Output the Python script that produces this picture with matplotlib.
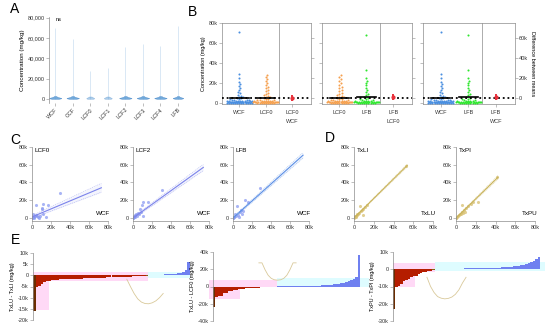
import numpy as np
import matplotlib
matplotlib.use("Agg")
import matplotlib.pyplot as plt

plt.rcParams['font.family'] = ['Liberation Sans', 'DejaVu Sans']

# ---------------- data ----------------
a_cats = ["WCF", "CCF", "LCF0", "LCF1", "LCF2", "LCF3", "LCF4", "LFB"]
a_max = [70000, 59000, 27000, 30000, 51000, 54000, 52000, 72000]
a_low = [[100, 300, 500, 600, 700, 800, 900, 1000, 1100, 1300, 1500, 1800, 2200, 2800],
         [100, 300, 500, 600, 700, 800, 900, 1000, 1100, 1300, 1500, 1800, 2200, 2800],
         [100, 300, 500, 700, 900, 1100, 1400, 1800, 2400],
         [100, 300, 500, 700, 900, 1100, 1400, 1800, 2400],
         [100, 300, 500, 600, 700, 800, 900, 1000, 1100, 1300, 1500, 1800, 2200, 2800],
         [100, 300, 500, 600, 700, 800, 900, 1000, 1100, 1300, 1500, 1800, 2200, 2800],
         [100, 300, 500, 600, 700, 800, 900, 1000, 1100, 1300, 1500, 1800, 2200, 2800],
         [100, 300, 500, 600, 700, 800, 900, 1000, 1100, 1300, 1500, 1800, 2200, 2800]]
a_blob_w = [0.7, 0.7, 0.45, 0.45, 0.7, 0.7, 0.7, 0.6]

b_wcf = [71000, 29000, 25000, 21000, 19000, 17000, 15000, 13000, 11000, 9500,
         8200, 7200, 6300, 5600, 5000, 4500, 4000, 3600, 3300, 3000,
         2800, 2600, 2400, 2200, 2100, 2000, 1900, 1800, 1700, 1600,
         1500, 1450, 1400, 1350, 1300, 1250, 1200, 1150, 1100, 1050,
         1000, 950, 900, 850, 800, 760, 720, 680, 640, 600,
         560, 520, 480, 440, 400, 360, 320, 280, 240, 200,
         170, 140, 110, 80, 50]
b_lcf0 = [28000, 26000, 24000, 22000, 20000, 18000, 16000, 14500, 13000, 11500,
          10000, 9000, 8000, 7000, 6200, 5500, 4800, 4200, 3700, 3300,
          2900, 2600, 2400, 2200, 2000, 1850, 1700, 1600, 1500, 1400,
          1300, 1200, 1100, 1000, 950, 900, 850, 800, 750, 700,
          650, 600, 550, 500, 450, 400, 350, 300, 250, 200,
          150, 100, 60]
b_lfb = [68000, 33000, 25000, 22000, 20000, 17500, 15000, 13000, 11000, 9000,
         7500, 6200, 5200, 4400, 3700, 3100, 2700, 2400, 2100, 1900,
         1700, 1500, 1400, 1300, 1200, 1100, 1000, 950, 900, 850,
         800, 750, 700, 650, 600, 550, 500, 450, 400, 350,
         300, 250, 200, 150, 100, 60]
b_pairs = [("WCF", "LCF0"), ("LCF0", "LFB"), ("WCF", "LFB")]
b_diff_ci = [(-3500, 2500), (-3000, 3000), (-3500, 2500)]

c_names = ["LCF0", "LCF2", "LFB"]
c_x = [[4500, 12000, 17000, 10000, 11000, 29000, 12000, 15000, 1000, 2000, 3000, 500, 4000, 6000, 8000, 1500, 2500, 7000, 5000, 800, 200],
       [9000, 11000, 16000, 30000, 11000, 7000, 5000, 3000, 2000, 1000, 500, 4000, 6000, 8000, 1500, 200, 2500],
       [4000, 12500, 16000, 28000, 7000, 10000, 9000, 3000, 1500, 500, 2000, 5000, 6000, 200, 1000, 8000]]
c_y = [[14700, 16000, 14700, 11000, 10000, 28000, 4000, 600, 1500, 800, 2500, 300, 3000, 1200, 2000, 4000, 200, 500, 2000, 900, 100],
       [15000, 18500, 18500, 32000, 2000, 10000, 6000, 4000, 1500, 800, 300, 2500, 5000, 7000, 2500, 100, 3000],
       [13000, 20000, 18500, 34000, 7000, 8000, 5000, 2000, 1500, 300, 4000, 3000, 1000, 200, 600, 9000]]
c_fit = [(0.45, 1200, 73000), (0.77, 0, 74000), (0.96, 0, 73700)]   # slope, intercept, x end
c_ci = [(1500, 5000), (1000, 3500), (1000, 3000)]                   # half width at 0 / at end

d_names = [("TxLI", "TxLU"), ("TxPI", "TxPU")]
d_x = [[53000, 13000, 11000, 9000, 6000, 9000, 7000, 5000, 4000, 3000, 2000, 1500, 1000, 500, 200, 2500, 3500, 8000],
       [42000, 5700, 17000, 22000, 15000, 12000, 10000, 8000, 6000, 5000, 4000, 3000, 2000, 1000, 500, 200, 7000, 9000]]
d_y = [[59000, 14500, 12000, 10000, 13000, 3000, 7500, 5500, 4200, 3500, 2200, 1700, 1100, 600, 200, 1500, 4500, 8500],
       [46000, 14700, 18500, 18500, 16000, 13000, 11000, 9000, 6500, 5000, 4400, 3200, 2200, 1100, 500, 200, 5500, 7000]]
d_fit = [(1.1, 0, 54000), (1.08, 0, 42500)]
d_ci = [(400, 1500), (400, 2000)]

e1 = [-16000, -5200, -4800, -4000, -3200, -2700, -2400, -2200, -2000, -1900,
      -1850, -1800, -1750, -1700, -1650, -1600, -1550, -1500, -1450, -1400,
      -1350, -1300, -1250, -1200, -1150, -1100, -1050, -1000, -950, -900,
      -850, -800, -760, -720, -680, -640, -600, -560, -520, -480,
      -440, -400, -360, -320,
      100, 150, 200, 250, 300, 350, 400, 450, 500, 600, 700, 900, 1200, 1600, 2500, 5800]
e2 = [-23500, -12000, -11500, -10500, -8000, -7000, -5500, -5000, -4500, -3800,
      -3400, -3000, -2600, -2300, -2000, -1800, -1600, -1400, -1200, -1100,
      -1000, -900, -800, -700, -600, -400,
      100, 150, 200, 250, 300, 350, 400, 450, 500, 550, 600, 650, 700, 750, 800,
      900, 1000, 1100, 1200, 1400, 1600, 1800, 2000, 2400, 2800, 3300, 3800, 4500,
      5200, 6000, 7000, 8500, 11000, 36000]
e3 = [-23000, -10000, -9500, -8300, -7000, -6200, -5800, -4300, -4000, -3800,
      -2600, -2400, -1600, -1400, -1200, -800, -600,
      100, 120, 150, 180, 200, 230, 260, 290, 320, 350, 380, 410, 440, 470, 500,
      540, 580, 620, 660, 700, 740, 780, 820, 860, 900, 950, 1000, 1100, 1200,
      1300, 1400, 1500, 1700, 1900, 2100, 2400, 2700, 3000, 3500, 4200, 5000, 6000, 7000]
e_labels = ["TxLU - TxLI (mg/kg)", "TxLU - LCF0 (mg/kg)", "TxPU - TxPI (mg/kg)"]
e_ticks = [[10000, 5000, 0, -5000, -10000, -15000, -20000],
           [40000, 20000, 0, -20000, -40000],
           [10000, 0, -10000, -20000, -30000]]
e_inset = [[1.0, 0.7, 0.42, 0.2, 0.07, 0.01, 0.0, 0.04, 0.12, 0.25, 0.42],
           [1.0, 1.0, 0.6, 0.28, 0.1, 0.02, 0.0, 0.02, 0.1, 0.28, 0.6, 1.0, 1.0],
           [0.95, 0.55, 0.28, 0.1, 0.03, 0.0, 0.02, 0.08, 0.2, 0.4, 0.7, 0.95]]

# ---------------- helpers ----------------
W, H = 550, 332
fig = plt.figure(figsize=(5.5, 3.32), dpi=100)
GR = '#8c8c8c'
FS = 4


def pax(x0, y0, x1, y1):
    return fig.add_axes([x0 / W, 1 - y1 / H, (x1 - x0) / W, (y1 - y0) / H])


def style(ax, sides=('left', 'bottom')):
    for s in ax.spines:
        ax.spines[s].set_visible(s in sides)
        ax.spines[s].set_color(GR)
        ax.spines[s].set_linewidth(0.5)
    ax.tick_params(labelsize=FS, length=2, width=0.4, color=GR, pad=1, labelcolor='#333333')


def kfmt(v):
    return "0" if v == 0 else "%dk" % (v / 1000)


def swarm(vals, xpx, ypx, d=1.9, cap=13):
    vals = np.asarray(vals, float)
    steps = [0.0]
    for k in range(1, int(cap / (d / 2)) + 1):
        steps += [k * d / 2, -k * d / 2]
    placed = []
    offs = np.zeros(len(vals))
    for i in np.argsort(vals):
        y = vals[i] * ypx
        best, bestgap = 0.0, -1
        for s in steps:
            gap = min([np.hypot(s - px, y - py) for px, py in placed if abs(y - py) < d] + [99])
            if gap >= d:
                best = s
                break
            if gap > bestgap:
                bestgap, best = gap, s
        placed.append((best, y))
        offs[i] = best / xpx
    return offs


def letter(x, y, t):
    fig.text(x / W, 1 - y / H, t, fontsize=10, ha='center', va='center')


# ---------------- A ----------------
letter(15, 9, "A")
ax = pax(49, 17, 185, 103)
style(ax)
vcol = '#5b9bd5'
pos = np.arange(len(a_cats))
ax.vlines(pos, 0, a_max, color=vcol, lw=0.4, alpha=0.4)
for p, lowv, w in zip(pos, a_low, a_blob_w):
    parts = ax.violinplot([lowv], positions=[p], widths=w, showextrema=False)
    for b in parts['bodies']:
        b.set_facecolor(vcol)
        b.set_edgecolor('#3b7fc4')
        b.set_linewidth(0.3)
        b.set_alpha(0.85 if w > 0.5 else 0.5)
ax.set_xlim(-0.35, 7.4)
ax.set_ylim(-4000, 80500)
ax.set_yticks([0, 20000, 40000, 60000, 80000])
ax.set_yticklabels(["0", "20,000", "40,000", "60,000", "80,000"])
ax.set_xticks(pos)
ax.set_xticklabels(a_cats, rotation=45, ha='right', rotation_mode='anchor')
ax.spines['bottom'].set_visible(False)
ax.set_ylabel("Concentration (mg/kg)", fontsize=FS + 0.5, labelpad=2)
ax.text(0.05, 78000, "ns", fontsize=FS, va='center')

# ---------------- B ----------------
letter(192, 12, "B")
groups = {"WCF": (b_wcf, '#4a8fe0'), "LCF0": (b_lcf0, '#f5a04e'), "LFB": (b_lfb, '#2ee62e')}
b_boxes = [(222, 311), (322, 412), (423, 515)]
for k, ((g1, g2), (x0, x1)) in enumerate(zip(b_pairs, b_boxes)):
    ax = pax(x0, 23, x1, 104.5)
    style(ax, sides=('left', 'bottom', 'top', 'right'))
    ax.set_xlim(-0.65, 2.7)
    ax.set_ylim(-1500, 80000)
    xpx = (x1 - x0) / 3.35
    ypx = 81.5 / 81500
    ax.axvline(1.5, color=GR, lw=0.5)
    m1 = np.mean(groups[g1][0])
    ax.plot([-0.65, 2.7], [m1, m1], ls=(0, (1, 1.6)), color='black', lw=1.3, zorder=4)
    for i, g in enumerate([g1, g2]):
        vals, col = groups[g]
        ox = swarm(vals, xpx, ypx, d=2.1)
        ax.scatter(i + ox, vals, s=2.2, color=col, lw=0, zorder=3)
        m = np.mean(vals)
        ax.plot([i - 0.35, i + 0.35], [m, m], color='black', lw=1.2, zorder=5)
    ax.set_yticks([0, 20000, 40000, 60000, 80000])
    if k == 0:
        ax.set_yticklabels([kfmt(v) for v in ax.get_yticks()])
        ax.set_ylabel("Concentration (mg/kg)", fontsize=FS, labelpad=2)
    else:
        ax.set_yticklabels([])
    ax.set_xticks([0, 1, 2])
    ax.set_xticklabels([g1, g2, g2 + "\n" + g1], linespacing=1.9)
    ax.tick_params(axis='x', pad=2)
    tw = ax.twinx()
    style(tw, sides=())
    tw.set_ylim(-1500 - m1, 80000 - m1)
    diff = np.mean(groups[g2][0]) - m1
    lo, hi = b_diff_ci[k]
    tw.vlines(2, diff + lo, diff + hi, color='#e8303a', lw=1.4)
    tw.scatter([2], [diff], s=4, color='#e8303a', zorder=5)
    tw.set_yticks([0, 20000, 40000, 60000])
    if k == 2:
        tw.set_yticklabels([kfmt(v) for v in tw.get_yticks()])
        tw.set_ylabel("Difference between means", fontsize=FS, rotation=270, labelpad=5)
    else:
        tw.set_yticklabels([])

# ---------------- C and D ----------------
letter(15, 140, "C")
letter(330, 138, "D")


def scatter_panel(x0, x1, xs, ys, fit, ci, col, pcol, title, xlabel):
    ax = pax(x0, 147, x1, 221)
    style(ax)
    ax.set_xlim(0, 80000)
    ax.set_ylim(-3400, 80000)
    ax.scatter(xs, ys, s=5, color=pcol, alpha=0.75, lw=0)
    slope, icp, xend = fit
    xx = np.array([0, xend])
    yy = slope * xx + icp
    hw = np.array(ci)
    ax.fill_between(xx, yy - hw, yy + hw, color=col, alpha=0.08, lw=0)
    ax.plot(xx, yy, color=col, lw=0.8)
    ax.plot(xx, yy + hw, color=col, lw=0.4, ls=(0, (2, 1.5)), alpha=0.6)
    ax.plot(xx, yy - hw, color=col, lw=0.4, ls=(0, (2, 1.5)), alpha=0.6)
    t = [0, 20000, 40000, 60000, 80000]
    ax.set_xticks(t)
    ax.set_yticks(t)
    ax.set_xticklabels([kfmt(v) for v in t])
    ax.set_yticklabels([kfmt(v) for v in t])
    ax.text(2500, 76000, title, fontsize=FS + 0.5, va='center')
    ax.text(75000, 5500, xlabel, fontsize=FS + 0.5, ha='center', va='center')
    return ax


c_boxes = [(32, 108), (133, 209), (233, 309)]
c_cols = ['#7b83eb', '#7b83eb', '#5b8fe6']
for i in range(3):
    scatter_panel(c_boxes[i][0], c_boxes[i][1], c_x[i], c_y[i], c_fit[i], c_ci[i],
                  c_cols[i], '#8c9cf2', c_names[i], "WCF")

d_boxes = [(354, 433), (456, 535)]
for i in range(2):
    scatter_panel(d_boxes[i][0], d_boxes[i][1], d_x[i], d_y[i], d_fit[i], d_ci[i],
                  '#c9b35a', '#d8c070', d_names[i][0], d_names[i][1])

# ---------------- E ----------------
letter(15, 240, "E")
e_boxes = [(33, 253, 190, 320), (213, 252, 360, 321), (393, 252, 540, 321)]
e_lims = [(-20000, 10000), (-40000, 40000), (-30000, 10000)]
# background bands: (i0, i1, y0, y1) pink over negatives, cyan over positives
e_pink = [[(-0.5, 43.5, -2400, 1300), (-0.5, 5.5, -15500, -2400)],
          [(-2.0, 25.5, -1000, 7000), (-2.0, 10.5, -14000, -1000)],
          [(-0.5, 16.5, -1700, 3500), (-0.5, 8.5, -10400, -1700)]]
e_cyan = [(43.5, 59.5, -1000, 1300), (25.5, 63.0, -1000, 10000), (16.5, 61.5, -1200, 4000)]
e_ins = [(125, 278, 165, 305), (257, 262, 298, 281), (425, 275, 468, 300)]
for k, vals in enumerate([e1, e2, e3]):
    x0, y0, x1, y1 = e_boxes[k]
    ax = pax(x0, y0, x1, y1)
    style(ax, sides=('left',))
    n = len(vals)
    idx = np.arange(n)
    vals = np.array(vals)
    cols = []
    nneg = int(np.sum(vals < 0))
    for i, v in enumerate(vals):
        if i == 0:
            cols.append('#6b2c00')
        elif v < 0 and i == nneg - 1:
            cols.append('#7b6a12')
        elif v < 0:
            cols.append('#b51d00')
        else:
            cols.append('#6f80f0')
    for (a, b, lo, hi) in e_pink[k]:
        ax.fill_between([a, b], lo, hi, color='#ffd9f6', lw=0, zorder=0, clip_on=False)
    a, b, lo, hi = e_cyan[k]
    ax.fill_between([a, b], lo, hi, color='#defcff', lw=0, zorder=0, clip_on=False)
    ax.bar(idx, vals, width=1.0, color=cols, lw=0, zorder=2)
    ax.set_xlim(-0.5, n - 0.5)
    ax.set_ylim(*e_lims[k])
    ax.set_xticks([])
    ax.set_yticks(e_ticks[k])
    ax.set_yticklabels([kfmt(v) for v in e_ticks[k]])
    ax.set_ylabel(e_labels[k], fontsize=FS, labelpad=2)
    ix0, iy0, ix1, iy1 = e_ins[k]
    ia = pax(ix0, iy0, ix1, iy1)
    ia.axis('off')
    cy = e_inset[k]
    ia.plot(np.arange(len(cy)), cy, color='#d9c99a', lw=0.6)
    ia.set_ylim(-0.05, 1.05)

fig.savefig("out.png", dpi=100)
